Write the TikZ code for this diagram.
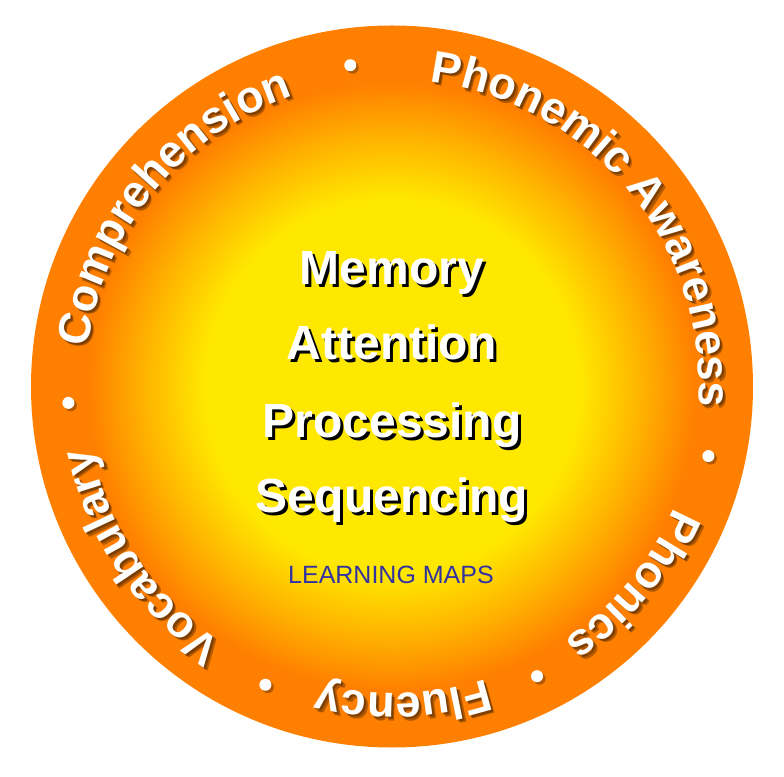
\documentclass[tikz,border=0pt]{standalone}
\usepackage{fontspec}
\setmainfont{Liberation Sans}
\usetikzlibrary{decorations.text}

\definecolor{sunyellow}{RGB}{255,232,0}
\definecolor{sunmid}{RGB}{255,182,0}
\definecolor{sunorange}{RGB}{255,128,0}
\definecolor{mapblue}{RGB}{51,51,160}

\pgfdeclareradialshading{sunfill}{\pgfpoint{0bp}{0bp}}{%
  color(0bp)=(sunyellow); color(13bp)=(sunyellow); color(17bp)=(sunmid);
  color(21bp)=(sunorange); color(25bp)=(sunorange); color(50bp)=(sunorange)}

\newcommand{\ringfont}{\fontsize{45}{54}\selectfont\bfseries}

% one word of the outer ring, centred at angle #1, shadow first
\newcommand{\ringword}[2]{%
  \begin{scope}[opacity=0.3]
    \path[ringpath, decoration={text={|\ringfont|#2}, text color=black}]
      ([shift={(2,-2)}]#1+80:307) arc[start angle=#1+80, end angle=#1-80, radius=307];
    \path[ringpath, decoration={text={|\ringfont|#2}, text color=black}]
      ([shift={(3.5,-3.5)}]#1+80:307) arc[start angle=#1+80, end angle=#1-80, radius=307];
  \end{scope}
  \path[ringpath, decoration={text={|\ringfont|#2}, text color=white}]
    (#1+80:307) arc[start angle=#1+80, end angle=#1-80, radius=307];
}

\begin{document}
\begin{tikzpicture}[x=1pt, y=1pt,
    ringpath/.style={decorate, decoration={text along path, text align=center}},
    centreword/.style={font=\fontsize{48}{58}\selectfont\bfseries, text=white, anchor=base, inner sep=0pt},
    centreshadow/.style={centreword, text=black},
    brandtext/.style={font=\fontsize{25}{30}\selectfont, text=mapblue, anchor=base, inner sep=0pt}]
    \useasboundingbox (-392,-389.5) rectangle (392,386.5);

    % the disk
    \shade[shading=sunfill] (0,0) circle[radius=361];

    % ring of words and dots
    \ringword{140.7}{Comprehension}
    \ringword{39.6}{Phonemic Awareness}
    \ringword{-39.5}{Phonics}
    \ringword{-88}{Fluency}
    \ringword{-146}{Vocabulary}
    \foreach \ang in {97.4, -12.4, -63.4, -113, 182.9} {
        \fill[black, opacity=0.3] ([shift={(2.5,-2.5)}]\ang:324) circle[radius=6];
        \fill[white] (\ang:324) circle[radius=6];
    }

    % centre words
    \foreach \word/\y [count=\i] in {Memory/101.5, Attention/26.5, Processing/-50.5, Sequencing/-125.5} {
        \node[centreshadow] (shade\i) at (3,\y-3) {\word};
        \node[centreword] (word\i) at (0,\y) {\word};
    }
    \node[brandtext] (brand) at (-1,-196.5) {LEARNING MAPS};
\end{tikzpicture}
\end{document}
